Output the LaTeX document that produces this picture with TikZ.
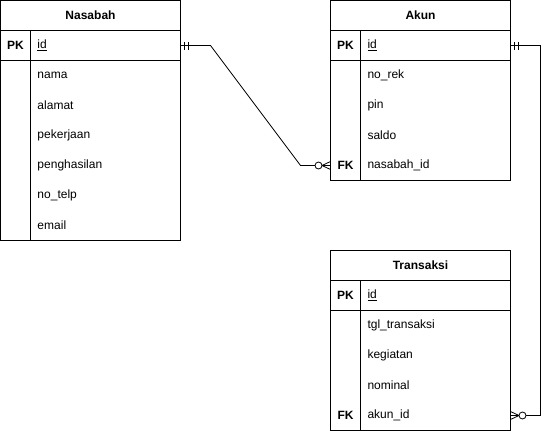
\documentclass[tikz,border=0pt]{standalone}
\usepackage{fontspec}
\setmainfont{Liberation Sans}
\usetikzlibrary{calc,positioning}

% mandatory one: two bars next to a right-hand edge point
\newcommand{\mandone}[1]{%
  \draw ($(#1)+(4pt,-4pt)$) -- ++(0,8pt);
  \draw ($(#1)+(7.5pt,-4pt)$) -- ++(0,8pt);}
% zero or many: #2 = 1 when the line leaves to the right, -1 to the left
\newcommand{\zeromany}[2]{%
  \draw ($(#1)+(#2*8.5pt,0)$) -- ($(#1)+(0,4pt)$)
        ($(#1)+(#2*8.5pt,0)$) -- (#1)
        ($(#1)+(#2*8.5pt,0)$) -- ($(#1)+(0,-4pt)$);
  \draw[fill=white] ($(#1)+(#2*12pt,0)$) circle (3.5pt);}

\begin{document}
\begin{tikzpicture}[
    line width=0.8pt,
    every node/.style={outer sep=0pt},
    font=\fontsize{12pt}{14pt}\selectfont,
    entity/.style={draw,font=\fontsize{12pt}{14pt}\selectfont\bfseries,
      minimum width=180pt,minimum height=30pt,inner sep=0pt,anchor=north west},
    keycell/.style={draw,font=\fontsize{12pt}{14pt}\selectfont\bfseries,
      minimum width=30pt,minimum height=30pt,inner sep=0pt},
    keytext/.style={font=\fontsize{12pt}{14pt}\selectfont\bfseries,
      minimum width=30pt,minimum height=30pt,inner sep=0pt,anchor=north west},
    idcell/.style={draw,minimum height=30pt,text width=136pt,inner xsep=7pt,
      inner ysep=0pt,align=left},
    column/.style={draw,minimum width=#1,inner sep=0pt},
    attr/.style={anchor=north west,minimum height=30pt,text width=136pt,
      inner xsep=7pt,inner ysep=0pt,align=left},
    connector/.style={}]
    \useasboundingbox (-0.5pt,0.5pt) rectangle (549.5pt,-430.5pt);

    % Nasabah
    \node (nasabah) [entity] at (0,0) {Nasabah};
    \node (nasabah-pk) [keycell,below=0pt of nasabah.south west,anchor=north west] {PK};
    \node (nasabah-id) [idcell,right=0pt of nasabah-pk] {\underline{id}};
    \node (nasabah-keys) [column=30pt,minimum height=180pt,below=0pt of nasabah-pk] {};
    \node (nasabah-body) [column=150pt,minimum height=180pt,right=0pt of nasabah-keys] {};
    \foreach \f [count=\i] in {nama,alamat,pekerjaan,penghasilan,no\_telp,email}
      \node (nasabah-\i) [attr,yshift={-30pt*(\i-1)}] at (nasabah-body.north west) {\f};

    % Akun
    \node (akun) [entity] at (330pt,0) {Akun};
    \node (akun-pk) [keycell,below=0pt of akun.south west,anchor=north west] {PK};
    \node (akun-id) [idcell,right=0pt of akun-pk] {\underline{id}};
    \node (akun-keys) [column=30pt,minimum height=120pt,below=0pt of akun-pk] {};
    \node (akun-body) [column=150pt,minimum height=120pt,right=0pt of akun-keys] {};
    \foreach \f [count=\i] in {no\_rek,pin,saldo,nasabah\_id}
      \node (akun-\i) [attr,yshift={-30pt*(\i-1)}] at (akun-body.north west) {\f};
    \node (akun-fk) [keytext,yshift=-90pt] at (akun-keys.north west) {FK};

    % Transaksi
    \node (transaksi) [entity] at (330pt,-250pt) {Transaksi};
    \node (transaksi-pk) [keycell,below=0pt of transaksi.south west,anchor=north west] {PK};
    \node (transaksi-id) [idcell,right=0pt of transaksi-pk] {\underline{id}};
    \node (transaksi-keys) [column=30pt,minimum height=120pt,below=0pt of transaksi-pk] {};
    \node (transaksi-body) [column=150pt,minimum height=120pt,right=0pt of transaksi-keys] {};
    \foreach \f [count=\i] in {tgl\_transaksi,kegiatan,nominal,akun\_id}
      \node (transaksi-\i) [attr,yshift={-30pt*(\i-1)}] at (transaksi-body.north west) {\f};
    \node (transaksi-fk) [keytext,yshift=-90pt] at (transaksi-keys.north west) {FK};

    % relations
    \draw[connector] (nasabah-id.east) -- ++(30pt,0)
      -- ($(akun-fk.west)+(-30pt,0)$) -- (akun-fk.west);
    \draw[connector] (akun-id.east) -- ++(30pt,0) |- (transaksi-4.east);

    \mandone{nasabah-id.east}
    \zeromany{akun-fk.west}{-1}
    \mandone{akun-id.east}
    \zeromany{transaksi-4.east}{1}
\end{tikzpicture}
\end{document}
